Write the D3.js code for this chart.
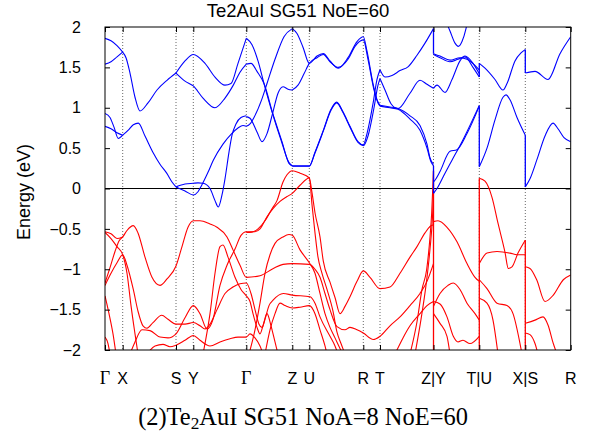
<!DOCTYPE html>
<html><head><meta charset="utf-8">
<script src="https://cdn.jsdelivr.net/npm/d3@7"></script>
<style>body{margin:0;background:#fff}</style>
</head><body>
<svg id="c" width="592" height="436"></svg>
<script>
// ---- data ----
const kTicks = [0,0.177,0.71,0.883,1.413,1.873,2.043,2.583,2.75,3.285,3.743,4.203,4.657];
const kLabels = ["Γ","X","S","Y","Γ","Z","U","R","T","Z|Y","T|U","X|S","R"];
const eTicks = [-2,-1.5,-1,-0.5,0,0.5,1,1.5,2];
const titleText = "Te2AuI SG51 NoE=60";
const yLabel = "Energy (eV)";

const conduction = [
 [[0,1.86],[0.06,1.83],[0.12,1.77],[0.177,1.69]],
 [[0,1.54],[0.06,1.57],[0.12,1.63],[0.177,1.69]],
 [[0,0.93],[0.05,0.88],[0.09,0.76],[0.133,0.62],[0.177,0.66]],
 [[0,0.77],[0.06,0.74],[0.12,0.69],[0.177,0.66]],
 [[0.177,1.69],[0.21,1.62],[0.25,1.43],[0.30,1.13],[0.35,0.96],[0.43,1.06],[0.52,1.22],[0.62,1.34],[0.71,1.43]],
 [[0.177,0.66],[0.23,0.72],[0.283,0.79],[0.333,0.81],[0.40,0.65],[0.483,0.44],[0.55,0.30],[0.617,0.19],[0.67,0.08],[0.71,0.02]],
 [[0.71,1.43],[0.80,1.58],[0.883,1.66],[1.0,1.55],[1.10,1.38],[1.20,1.28],[1.26,1.30],[1.33,1.55],[1.413,1.86]],
 [[0.71,1.43],[0.80,1.33],[0.883,1.27],[0.98,1.12],[1.10,1.00],[1.20,1.12],[1.283,1.28],[1.35,1.44],[1.413,1.54]],
 [[0.71,0.02],[0.80,0.055],[0.883,0.065],[0.93,0.07],[0.98,0.065],[1.05,0.0],[1.10,-0.15],[1.133,-0.23],[1.17,-0.08],[1.20,0.12],[1.24,0.45],[1.27,0.66],[1.31,0.80],[1.36,0.88],[1.413,0.90]],
 [[0.71,0.02],[0.80,-0.03],[0.883,-0.08],[0.93,-0.04],[0.967,0.04],[1.03,0.20],[1.083,0.35],[1.18,0.55],[1.267,0.68],[1.33,0.75],[1.38,0.78],[1.413,0.77]],
 [[1.413,1.86],[1.47,1.78],[1.53,1.58],[1.59,1.30],[1.67,0.95],[1.76,0.60],[1.84,0.32],[1.873,0.28]],
 [[1.413,1.54],[1.46,1.55],[1.52,1.45],[1.59,1.30],[1.68,0.92],[1.77,0.58],[1.84,0.31],[1.873,0.28]],
 [[1.413,0.89],[1.45,0.87],[1.52,0.70],[1.57,0.58],[1.62,0.68],[1.68,0.95],[1.73,1.18],[1.78,1.26],[1.83,1.23],[1.873,1.22]],
 [[1.413,0.77],[1.45,0.80],[1.49,0.88],[1.567,1.10],[1.62,1.30],[1.70,1.60],[1.79,1.88],[1.873,1.98]],
 [[1.873,1.98],[1.92,1.92],[1.98,1.75],[2.043,1.55],[2.12,1.64],[2.183,1.67],[2.25,1.58],[2.333,1.49],[2.43,1.62],[2.52,1.82],[2.583,1.88],[2.62,1.70],[2.68,1.30],[2.72,1.10],[2.75,1.03]],
 [[1.873,1.22],[1.93,1.28],[1.99,1.42],[2.043,1.55],[2.12,1.62],[2.183,1.66],[2.25,1.57],[2.333,1.50],[2.43,1.60],[2.50,1.76],[2.583,1.84],[2.63,1.60],[2.69,1.22],[2.73,1.06],[2.75,1.02]],
 [[1.873,0.28],[2.043,0.28],[2.10,0.45],[2.183,0.72],[2.26,0.98],[2.317,1.07],[2.38,0.95],[2.45,0.77],[2.53,0.58],[2.583,0.54],[2.62,0.68],[2.68,1.05],[2.72,1.35],[2.75,1.47]],
 [[1.873,0.275],[2.043,0.275],[2.10,0.44],[2.183,0.71],[2.26,0.97],[2.317,1.06],[2.38,0.94],[2.45,0.76],[2.53,0.57],[2.583,0.53],[2.63,0.65],[2.69,1.0],[2.73,1.28],[2.75,1.36]],
 [[2.75,1.47],[2.80,1.38],[2.87,1.40],[2.95,1.46],[3.033,1.51],[3.12,1.65],[3.20,1.80],[3.285,1.98]],
 [[2.75,1.36],[2.80,1.22],[2.86,1.05],[2.93,0.99],[3.05,1.18],[3.15,1.34],[3.22,1.29],[3.285,1.24]],
 [[2.75,1.03],[2.85,1.01],[2.93,0.99],[3.05,0.90],[3.15,0.78],[3.22,0.55],[3.25,0.38],[3.285,0.30]],
 [[2.75,1.02],[2.85,1.0],[2.93,0.98],[3.05,0.86],[3.15,0.72],[3.22,0.50],[3.26,0.33],[3.285,0.28]],
 [[3.285,1.67],[3.35,1.64],[3.45,1.59],[3.55,1.62],[3.62,1.60],[3.743,1.47]],
 [[3.285,1.66],[3.35,1.62],[3.45,1.57],[3.53,1.60],[3.60,1.63],[3.68,1.50],[3.743,1.38]],
 [[3.285,1.24],[3.32,1.28],[3.40,1.19],[3.47,1.35],[3.55,1.58],[3.60,1.64],[3.68,1.55],[3.743,1.42]],
 [[3.40,2.10],[3.45,1.95],[3.50,1.80],[3.533,1.76],[3.57,1.82],[3.61,1.98],[3.63,2.10]],
 [[3.285,0.08],[3.31,0.12],[3.35,0.21],[3.45,0.46],[3.52,0.48],[3.62,0.68],[3.743,1.02]],
 [[3.285,-0.06],[3.32,0.0],[3.40,0.19],[3.47,0.35],[3.57,0.58],[3.743,1.03]],
 [[3.743,1.55],[3.80,1.49],[3.90,1.35],[3.98,1.22],[4.02,1.30],[4.10,1.58],[4.16,1.68],[4.203,1.72]],
 [[3.743,0.27],[3.82,0.50],[3.90,0.85],[3.98,1.13],[4.01,1.16],[4.05,1.10],[4.12,0.88],[4.203,0.66]],
 [[4.203,1.43],[4.30,1.45],[4.43,1.35],[4.55,1.67],[4.657,1.88]],
 [[4.203,0.02],[4.25,0.12],[4.32,0.36],[4.40,0.65],[4.48,0.81],[4.53,0.74],[4.59,0.63],[4.657,0.58]]
];

const valence = [
 [[0,-1.17],[0.05,-0.98],[0.10,-0.78],[0.14,-0.65],[0.177,-0.60],[0.22,-0.52],[0.283,-0.46],[0.33,-0.55],[0.40,-0.85],[0.47,-1.10],[0.55,-1.20],[0.62,-1.12],[0.71,-0.96],[0.77,-0.72],[0.83,-0.48],[0.883,-0.40],[0.95,-0.40],[1.05,-0.44],[1.12,-0.48],[1.22,-0.60],[1.28,-0.76],[1.35,-0.95],[1.413,-1.10],[1.55,-1.08],[1.683,-0.99],[1.78,-0.94],[1.873,-0.93],[2.043,-0.94],[2.10,-1.0],[2.15,-1.10],[2.20,-1.30],[2.25,-1.50],[2.32,-1.71],[2.40,-1.75],[2.45,-1.72],[2.52,-1.75],[2.583,-1.79],[2.683,-1.87],[2.75,-1.83],[2.85,-1.70],[2.95,-1.59],[3.05,-1.45],[3.15,-1.30],[3.22,-1.15],[3.285,-0.93]],
 [[0,-0.535],[0.06,-0.56],[0.12,-0.62],[0.177,-0.60]],
 [[0,-0.545],[0.06,-0.62],[0.12,-0.72],[0.177,-0.82],[0.22,-1.05],[0.26,-1.45],[0.30,-1.80],[0.33,-2.05]],
 [[0,-1.20],[0.06,-1.05],[0.12,-0.92],[0.177,-0.82],[0.22,-0.95],[0.283,-1.25],[0.33,-1.52],[0.38,-1.70],[0.42,-1.73],[0.48,-1.66],[0.567,-1.57],[0.63,-1.62],[0.71,-1.68],[0.80,-1.68],[0.883,-1.66],[0.95,-1.70],[1.0,-1.74],[1.05,-1.68],[1.12,-1.50],[1.20,-1.30],[1.28,-1.22],[1.35,-1.18],[1.413,-1.17],[1.46,-1.30],[1.50,-1.50],[1.54,-1.68],[1.57,-1.72],[1.60,-1.62],[1.64,-1.45],[1.683,-1.38],[1.783,-1.30],[1.873,-1.32],[2.05,-1.34],[2.10,-1.42],[2.15,-1.59],[2.25,-1.83],[2.30,-1.95],[2.33,-2.05]],
 [[0,-1.33],[0.04,-1.55],[0.08,-1.80],[0.11,-2.05]],
 [[0,-1.84],[0.03,-1.92],[0.05,-2.05]],
 [[0.25,-2.05],[0.30,-1.90],[0.37,-1.75],[0.45,-1.76],[0.55,-1.84],[0.63,-1.85],[0.71,-1.80],[0.80,-1.60],[0.883,-1.45],[0.95,-1.55],[1.02,-1.74],[1.08,-1.62],[1.15,-1.20],[1.22,-0.95],[1.30,-0.75],[1.36,-0.58],[1.413,-0.535],[1.50,-0.535],[1.55,-0.50],[1.62,-0.35],[1.68,-0.25],[1.75,-0.16],[1.82,-0.10],[1.873,-0.06],[1.95,0.04],[2.043,0.13],[2.07,-0.20],[2.10,-0.55],[2.13,-0.85],[2.17,-1.05],[2.22,-1.25],[2.28,-1.52],[2.32,-1.78],[2.36,-1.92],[2.40,-2.05]],
 [[0.42,-2.05],[0.50,-1.95],[0.58,-1.93],[0.65,-1.96],[0.71,-1.94],[0.80,-1.88],[0.883,-1.82],[0.95,-1.88],[1.05,-1.95],[1.15,-1.90],[1.25,-1.86],[1.33,-1.84],[1.413,-1.84],[1.45,-1.80],[1.50,-1.85],[1.55,-1.95],[1.58,-2.05]],
 [[0.98,-2.05],[1.05,-1.55],[1.10,-1.05],[1.15,-0.72],[1.18,-0.70],[1.23,-0.85],[1.30,-1.10],[1.36,-1.25],[1.413,-1.33],[1.45,-1.40],[1.48,-1.55],[1.52,-1.72],[1.55,-1.80],[1.58,-1.70],[1.62,-1.55],[1.66,-1.70],[1.70,-1.90],[1.73,-2.05]],
 [[1.413,-0.545],[1.47,-0.54],[1.53,-0.50],[1.60,-0.40],[1.67,-0.25],[1.72,-0.15],[1.78,0.08],[1.82,0.17],[1.873,0.22],[1.95,0.19],[2.043,0.13],[2.07,-0.05],[2.10,-0.30],[2.15,-0.60],[2.183,-0.90],[2.25,-1.16],[2.30,-1.35],[2.35,-1.55],[2.40,-1.46],[2.45,-1.34],[2.52,-1.15],[2.583,-1.02],[2.65,-1.10],[2.75,-1.24],[2.85,-1.22],[2.95,-1.05],[3.05,-0.85],[3.12,-0.72],[3.20,-0.55],[3.25,-0.47],[3.285,-0.45]],
 [[1.44,-2.05],[1.50,-1.75],[1.55,-1.42],[1.60,-1.05],[1.65,-0.82],[1.70,-0.68],[1.78,-0.60],[1.84,-0.57],[1.873,-0.58],[1.95,-0.76],[2.043,-0.92],[2.10,-1.05],[2.15,-1.30],[2.20,-1.55],[2.25,-1.72],[2.30,-1.85],[2.35,-1.98],[2.38,-2.05]],
 [[1.60,-2.05],[1.65,-1.75],[1.70,-1.55],[1.75,-1.42],[1.80,-1.45],[1.873,-1.48],[1.95,-1.47],[2.043,-1.45],[2.10,-1.55],[2.15,-1.75],[2.20,-1.95],[2.22,-2.05]],
 [[3.05,-2.05],[3.12,-1.65],[3.17,-1.25],[3.217,-1.0],[3.25,-0.60],[3.267,-0.30],[3.285,0.22]],
 [[3.10,-2.05],[3.16,-1.62],[3.21,-1.20],[3.25,-0.75],[3.275,-0.35],[3.285,-0.06]],
 [[2.90,-2.05],[2.98,-1.85],[3.05,-1.70],[3.15,-1.55],[3.22,-1.45],[3.285,-1.40]],
 [[3.285,-0.41],[3.33,-0.40],[3.42,-0.48],[3.52,-0.66],[3.62,-0.93],[3.70,-1.10],[3.743,-1.15]],
 [[3.285,-1.46],[3.35,-1.30],[3.43,-1.20],[3.483,-1.17],[3.55,-1.25],[3.62,-1.42],[3.70,-1.55],[3.743,-1.63]],
 [[3.285,-1.40],[3.35,-1.43],[3.42,-1.59],[3.483,-1.83],[3.53,-1.90],[3.58,-1.88],[3.65,-1.92],[3.743,-1.83]],
 [[3.285,-1.55],[3.35,-1.67],[3.42,-1.83],[3.45,-2.05]],
 [[3.743,0.126],[3.80,0.09],[3.87,-0.11],[3.93,-0.43],[4.0,-0.79],[4.033,-0.99],[4.07,-0.97],[4.13,-0.80],[4.203,-0.64]],
 [[3.743,-0.93],[3.82,-0.80],[3.92,-0.78],[4.05,-0.80],[4.12,-0.82],[4.203,-0.82]],
 [[3.743,-1.13],[3.82,-1.24],[3.92,-1.42],[4.02,-1.45],[4.08,-1.55],[4.15,-1.92],[4.17,-2.05]],
 [[3.743,-1.36],[3.82,-1.42],[3.88,-1.63],[3.93,-2.05]],
 [[4.203,-0.97],[4.25,-0.99],[4.317,-1.13],[4.40,-1.40],[4.483,-1.32],[4.583,-1.13],[4.657,-1.07]],
 [[4.203,-1.67],[4.30,-1.63],[4.38,-1.59],[4.43,-1.69],[4.483,-1.92],[4.52,-2.05]],
 [[4.203,-1.79],[4.25,-1.81],[4.30,-1.92],[4.33,-2.05]]
];

// vertical band discontinuities at Z|Y, T|U, X|S: [k, E from, E to]
const conductionJumps = [[3.285,1.98,1.67],[3.285,0.28,-0.06],[3.743,1.38,1.55],[3.743,1.02,0.27],[4.203,1.72,1.43],[4.203,0.66,0.02]];
const valenceJumps = [[3.285,0.22,-2.05],[3.743,0.126,-2.05],[4.203,-0.64,-2.05]];

// ---- drawing ----
const svg = d3.select("#c");
const L=105, R=570.7, T=27, B=350;
const SANS = "Liberation Sans, Arial, Helvetica, sans-serif";
const x = d3.scaleLinear().domain([0,4.657]).range([L,R]);
const y = d3.scaleLinear().domain([-2,2]).range([B,T]);

svg.append("defs").append("clipPath").attr("id","clip")
  .append("rect").attr("x",L).attr("y",T).attr("width",R-L).attr("height",B-T);

// grid (dotted vertical lines at interior k-points)
svg.append("g").selectAll("line").data(kTicks.slice(1,-1)).join("line")
  .attr("x1",d=>x(d)).attr("x2",d=>x(d)).attr("y1",T).attr("y2",B)
  .attr("stroke","#000").attr("stroke-width",0.8).attr("stroke-dasharray","1,2").attr("opacity",0.75);

// zero line
svg.append("line").attr("x1",L).attr("x2",R).attr("y1",y(0)).attr("y2",y(0))
  .attr("stroke","#000").attr("stroke-width",1);

const line = d3.line().x(d=>x(d[0])).y(d=>y(d[1])).curve(d3.curveMonotoneX);
const plot = svg.append("g").attr("clip-path","url(#clip)");
const BLUE="#0000ff", RED="#ff0000";

plot.append("g").selectAll("path").data(valence).join("path")
  .attr("d",line).attr("fill","none").attr("stroke",RED).attr("stroke-width",1.1);
plot.append("g").selectAll("line").data(valenceJumps).join("line")
  .attr("x1",d=>x(d[0])).attr("x2",d=>x(d[0])).attr("y1",d=>y(d[1])).attr("y2",d=>y(d[2]))
  .attr("stroke",RED).attr("stroke-width",1.3);
plot.append("g").selectAll("path").data(conduction).join("path")
  .attr("d",line).attr("fill","none").attr("stroke",BLUE).attr("stroke-width",1.1);
plot.append("g").selectAll("line").data(conductionJumps).join("line")
  .attr("x1",d=>x(d[0])).attr("x2",d=>x(d[0])).attr("y1",d=>y(d[1])).attr("y2",d=>y(d[2]))
  .attr("stroke",BLUE).attr("stroke-width",1.3);

// frame
svg.append("rect").attr("x",L).attr("y",T).attr("width",R-L).attr("height",B-T)
  .attr("fill","none").attr("stroke","#000").attr("stroke-width",1);

// y axis ticks (inward both sides) and labels
const yAxisL = d3.axisLeft(y).tickValues(eTicks).tickSize(-5).tickPadding(24)
  .tickFormat(d=>d3.format("")(d));
const gy = svg.append("g").attr("transform",`translate(${L},0)`).call(yAxisL);
gy.select(".domain").remove();
gy.selectAll("text").attr("font-family",SANS).attr("font-size",16).attr("fill","#000");
const yAxisR = d3.axisRight(y).tickValues(eTicks).tickSize(-5).tickFormat("");
const gyr = svg.append("g").attr("transform",`translate(${R},0)`).call(yAxisR);
gyr.select(".domain").remove();

// x ticks (inward top and bottom)
const xAxisB = d3.axisBottom(x).tickValues(kTicks).tickSize(-5).tickFormat("");
const gxb = svg.append("g").attr("transform",`translate(0,${B})`).call(xAxisB);
gxb.select(".domain").remove();
const xAxisT = d3.axisTop(x).tickValues(kTicks).tickSize(-5).tickFormat("");
const gxt = svg.append("g").attr("transform",`translate(0,${T})`).call(xAxisT);
gxt.select(".domain").remove();

// k-point labels
svg.append("g").selectAll("text").data(kTicks).join("text")
  .attr("x",d=>x(d)).attr("y",384).attr("text-anchor","middle")
  .attr("font-family",(d,i)=>kLabels[i]==="Γ"?"Liberation Serif, serif":SANS)
  .attr("font-size",(d,i)=>kLabels[i]==="Γ"?18:16)
  .text((d,i)=>kLabels[i]);

// title
svg.append("text").attr("x",298).attr("y",17).attr("text-anchor","middle")
  .attr("font-family",SANS).attr("font-size",18.5).text(titleText);

// y label
svg.append("text").attr("transform",`translate(30,192) rotate(-90)`).attr("text-anchor","middle")
  .attr("font-family",SANS).attr("font-size",18).text(yLabel);

// caption
const cap = svg.append("text").attr("x",303).attr("y",425).attr("text-anchor","middle")
  .attr("font-family","Liberation Serif, 'DejaVu Serif', serif").attr("font-size",17);
cap.append("tspan").text("(2)Te");
cap.append("tspan").attr("font-size",12).attr("dy",4).text("2");
cap.append("tspan").attr("dy",-4).text("AuI SG51 NoA=8 NoE=60");
const w = cap.node().getComputedTextLength();
if (w>0) { const s = 330/w; cap.attr("font-size",17*s); cap.select("tspan:nth-child(2)").attr("font-size",12*s); }
</script>
</body></html>
